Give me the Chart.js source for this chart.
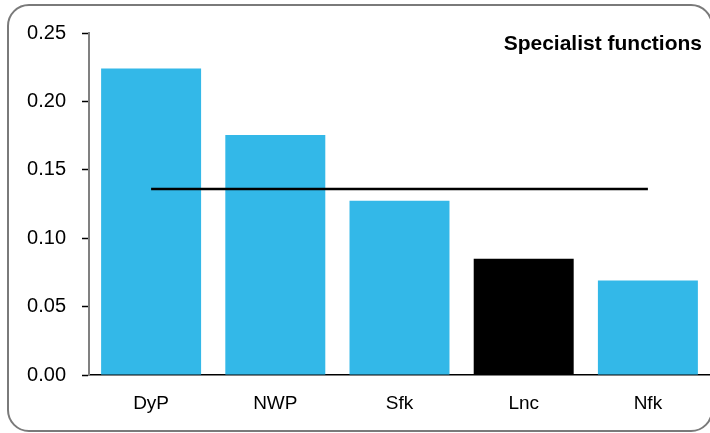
<!DOCTYPE html>
<html>
<head>
<meta charset="utf-8">
<script src="https://cdn.jsdelivr.net/npm/chart.js@4"></script>
<style>
  html, body { margin: 0; padding: 0; background: #fff; }
  #wrap { width: 710px; height: 433px; position: relative; }
</style>
</head>
<body>
<div id="wrap"><canvas id="chart"></canvas></div>
<script>
const categories = ['DyP', 'NWP', 'Sfk', 'Lnc', 'Nfk'];
const scores = [0.224, 0.1755, 0.1273, 0.085, 0.069];
const barColors = ['#33b8e8', '#33b8e8', '#33b8e8', '#000000', '#33b8e8'];
const averageScore = 0.136;
const yTicks = [0, 0.05, 0.10, 0.15, 0.20, 0.25];
const chartTitle = 'Specialist functions';

// rounded frame and the title in the top right corner
const framePlugin = {
  id: 'frame',
  beforeDraw(chart) {
    const ctx = chart.ctx;
    ctx.save();
    ctx.fillStyle = '#fff';
    ctx.fillRect(0, 0, chart.width, chart.height);
    ctx.restore();
  },
  afterDraw(chart) {
    const ctx = chart.ctx;
    ctx.save();
    ctx.strokeStyle = '#7a7a7a';
    ctx.lineWidth = 2;
    ctx.beginPath();
    ctx.roundRect(8, 5, 704, 426, 21);
    ctx.stroke();
    ctx.fillStyle = '#000';
    ctx.font = 'bold 21px "Liberation Sans", Arial, sans-serif';
    ctx.textAlign = 'right';
    ctx.textBaseline = 'middle';
    ctx.fillText(chartTitle, 702, 44);
    ctx.restore();
  }
};

const ctx = document.getElementById('chart');
new Chart(ctx, {
  data: {
    labels: categories,
    datasets: [
      {
        type: 'line',
        data: categories.map(() => averageScore),
        borderColor: '#000',
        borderWidth: 2.5,
        pointRadius: 0,
        fill: false,
        order: 0
      },
      {
        type: 'bar',
        data: scores,
        backgroundColor: barColors,
        barPercentage: 0.805,
        categoryPercentage: 1,
        order: 1
      }
    ]
  },
  options: {
    responsive: true,
    maintainAspectRatio: false,
    animation: false,
    layout: { padding: { top: 33, right: 0, left: 0, bottom: 0 } },
    plugins: {
      legend: { display: false },
      tooltip: { enabled: false }
    },
    scales: {
      x: {
        grid: { display: false, drawTicks: false },
        border: { color: '#000', width: 1.5 },
        ticks: {
          color: '#000',
          padding: 17,
          font: { family: '"Liberation Sans", Arial, sans-serif', size: 19 }
        },
        afterFit(scale) { scale.height = 58; }
      },
      y: {
        min: 0,
        max: 0.25,
        afterBuildTicks(scale) { scale.ticks = yTicks.map(v => ({ value: v })); },
        grid: { drawOnChartArea: false, tickLength: 7, color: '#000', tickWidth: 1.5 },
        border: { color: '#808080', width: 2 },
        ticks: {
          color: '#000',
          padding: 16,
          font: { family: '"Liberation Sans", Arial, sans-serif', size: 20 },
          callback: v => v.toFixed(2)
        },
        afterFit(scale) { scale.width = 89; }
      }
    }
  },
  plugins: [framePlugin]
});
</script>
</body>
</html>
